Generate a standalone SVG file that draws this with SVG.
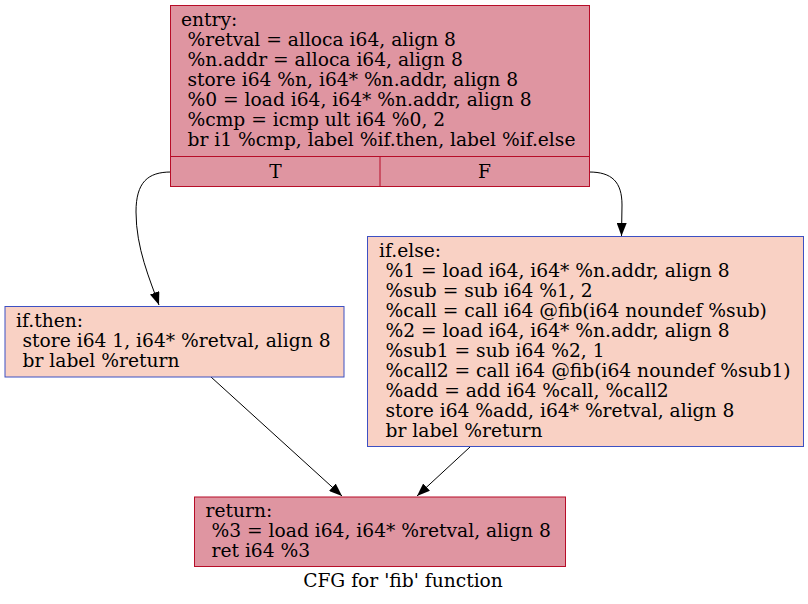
<svg xmlns="http://www.w3.org/2000/svg" width="808" height="604" viewBox="0 0 808 604">
<defs>
<marker id="ah" viewBox="0 0 13 10" refX="13" refY="5" markerWidth="13" markerHeight="10" markerUnits="userSpaceOnUse" orient="auto">
<path d="M0,0 L13,5 L0,10 z" fill="#000"/>
</marker>
<style>
text{font-family:"DejaVu Serif",serif;font-size:18.67px;fill:#000}
.red{fill:#df95a1;stroke:#b70d28;stroke-width:1}
.blue{fill:#f9d1c4;stroke:#3d50c3;stroke-width:1}
.edge{fill:none;stroke:#000;stroke-width:1}
</style>
</defs>
<rect width="808" height="604" fill="#fff"/>
<g id="edges">
<path class="edge" d="M171,172 C148,172 136,182 136,212 C136,248 150,280 159,305" marker-end="url(#ah)"/>
<path class="edge" d="M589,172 C612,172 622,182 622,205 L621.5,236" marker-end="url(#ah)"/>
<path class="edge" d="M211,377 L342,496" marker-end="url(#ah)"/>
<path class="edge" d="M470,447 L417,496" marker-end="url(#ah)"/>
</g>
<g id="entry">
<rect class="red" x="170.5" y="5.5" width="419" height="181"/>
<line x1="170.5" y1="156.5" x2="589.5" y2="156.5" stroke="#b70d28"/>
<line x1="380" y1="156.5" x2="380" y2="186.5" stroke="#b70d28"/>
<text x="181" y="26">entry:</text>
<text x="187.5" y="46">%retval = alloca i64, align 8</text>
<text x="187.5" y="66">%n.addr = alloca i64, align 8</text>
<text x="187.5" y="86">store i64 %n, i64* %n.addr, align 8</text>
<text x="187.5" y="106">%0 = load i64, i64* %n.addr, align 8</text>
<text x="187.5" y="126">%cmp = icmp ult i64 %0, 2</text>
<text x="187.5" y="146">br i1 %cmp, label %if.then, label %if.else</text>
<text x="275.5" y="177.5" text-anchor="middle">T</text>
<text x="484.5" y="177.5" text-anchor="middle">F</text>
</g>
<g id="if.then">
<rect class="blue" x="5" y="306.5" width="339" height="70.5"/>
<text x="16" y="327">if.then:</text>
<text x="22.5" y="347">store i64 1, i64* %retval, align 8</text>
<text x="22.5" y="367">br label %return</text>
</g>
<g id="if.else">
<rect class="blue" x="367.5" y="236.5" width="436" height="210"/>
<text x="379" y="257">if.else:</text>
<text x="385.5" y="277">%1 = load i64, i64* %n.addr, align 8</text>
<text x="385.5" y="297">%sub = sub i64 %1, 2</text>
<text x="385.5" y="317">%call = call i64 @fib(i64 noundef %sub)</text>
<text x="385.5" y="337">%2 = load i64, i64* %n.addr, align 8</text>
<text x="385.5" y="357">%sub1 = sub i64 %2, 1</text>
<text x="385.5" y="377">%call2 = call i64 @fib(i64 noundef %sub1)</text>
<text x="385.5" y="397">%add = add i64 %call, %call2</text>
<text x="385.5" y="417">store i64 %add, i64* %retval, align 8</text>
<text x="385.5" y="437">br label %return</text>
</g>
<g id="return">
<rect class="red" x="194.5" y="497" width="371" height="69.5"/>
<text x="205.5" y="517">return:</text>
<text x="211.5" y="537">%3 = load i64, i64* %retval, align 8</text>
<text x="211.5" y="557">ret i64 %3</text>
</g>
<text x="403" y="587" text-anchor="middle">CFG for 'fib' function</text>
</svg>
